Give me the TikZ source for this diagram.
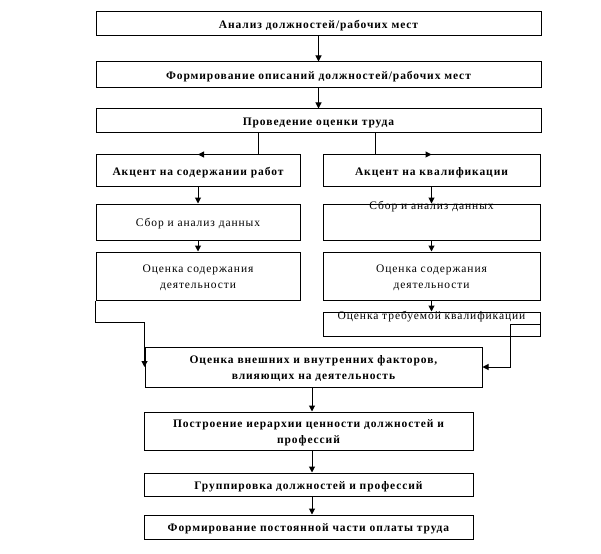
\documentclass[tikz,border=0pt]{standalone}
\usepackage{fontspec}
\setmainfont{Liberation Serif}[LetterSpace=8]
\usetikzlibrary{arrows.meta,calc}
\begin{document}
\begin{tikzpicture}[x=1pt,y=-1pt,
  line width=1pt,
  box/.style={draw, line width=1pt, inner sep=0pt},
  blab/.style={inner sep=0pt, align=center, yshift=-1.8pt,
    font=\bfseries\fontsize{11.5}{16}\selectfont},
  rlab/.style={blab, font=\fontsize{11.5}{16}\selectfont},
  bt/.style={label={[blab]center:{#1}}},
  rt/.style={label={[rlab]center:{#1}}},
  txt/.style={inner sep=0pt, font=\fontsize{11.5}{16}\selectfont},
  arr/.style={-{Triangle[length=6pt,width=6pt]}, line width=1pt}]
\useasboundingbox (0,0) rectangle (601,553);
\fill[white] (0,0) rectangle (601,553);

\node[box, minimum width=445pt, minimum height=24pt, bt={Анализ должностей/рабочих мест}] (b1) at (318.5,24) {};
\node[box, minimum width=445pt, minimum height=26pt, bt={Формирование описаний должностей/рабочих мест}] (b2) at (318.5,75) {};
\node[box, minimum width=445pt, minimum height=24pt, bt={Проведение оценки труда}] (b3) at (318.5,121) {};

\node[box, minimum width=204pt, minimum height=32pt, bt={Акцент на содержании работ}] (a1) at (198,171) {};
\node[box, minimum width=217pt, minimum height=32pt, bt={Акцент на квалификации}] (a2) at (431.5,171) {};

\node[box, minimum width=204pt, minimum height=36pt, rt={Сбор и анализ данных}] (s1) at (198,222) {};
\node[box, minimum width=217pt, minimum height=36pt] (s2) at (431.5,222) {};
\node[txt] (s2t) at (431.5,207) {Сбор и анализ данных};

\node[box, minimum width=204pt, minimum height=48pt, rt={Оценка содержания\\деятельности}] (o1) at (198,276) {};
\node[box, minimum width=217pt, minimum height=48pt, rt={Оценка содержания\\деятельности}] (o2) at (431.5,276) {};

\node[box, minimum width=217pt, minimum height=24pt] (q) at (431.5,324) {};
\node[txt] (qt) at (431.5,316.5) {Оценка требуемой квалификации};

\node[box, minimum width=337pt, minimum height=40pt, bt={Оценка внешних и внутренних факторов,\\влияющих на деятельность}] (e) at (313.5,367) {};
\node[box, minimum width=329pt, minimum height=38pt, bt={Построение иерархии ценности должностей и\\профессий}] (p) at (308.5,431) {};
\node[box, minimum width=329pt, minimum height=23pt, bt={Группировка должностей и профессий}] (g) at (308.5,484.5) {};
\node[box, minimum width=329pt, minimum height=24pt, bt={Формирование постоянной части оплаты труда}] (f) at (308.5,527) {};

\coordinate (m) at (312,0);
\coordinate (tl) at (258,0);
\coordinate (tr) at (375,0);

\draw[arr] (b1) -- (b2);
\draw[arr] (b2) -- (b3);
\draw[arr] (tl |- b3.south) |- (a1.north);
\draw[arr] (tr |- b3.south) |- (a2.north);
\draw[arr] (a1) -- (s1);
\draw[arr] (s1) -- (o1);
\draw[arr] (a2) -- (s2);
\draw[arr] (s2) -- (o2);
\draw[arr] (o2) -- (q);
\draw[arr] (o1.south west) -- ++(0,22) -| (e.west);
\draw[arr] (q.east) -- ++(-30,0) |- (e.east);
\draw[arr] (m |- e.south) -- (m |- p.north);
\draw[arr] (m |- p.south) -- (m |- g.north);
\draw[arr] (m |- g.south) -- (m |- f.north);
\end{tikzpicture}
\end{document}
